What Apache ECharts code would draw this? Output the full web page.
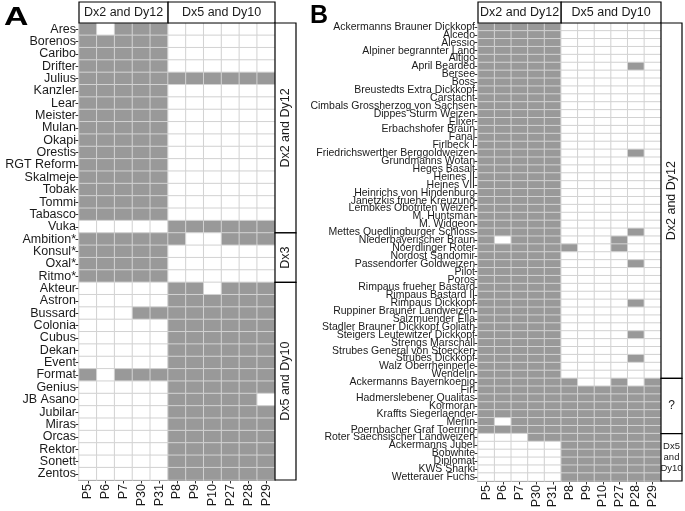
<!DOCTYPE html>
<html><head><meta charset="utf-8">
<script src="https://cdn.jsdelivr.net/npm/echarts/dist/echarts.min.js"></script>
<style>html,body{margin:0;padding:0;background:#fff}#c{width:685px;height:511px}</style>
</head><body><div id="c"></div>
<script>
// ---------- data ----------
const columns = ['P5','P6','P7','P30','P31','P8','P9','P10','P27','P28','P29'];
const colGroups = [['Dx2 and Dy12', 5], ['Dx5 and Dy10', 6]];

const rowsA = ['Ares','Borenos','Caribo','Drifter','Julius','Kanzler','Lear','Meister','Mulan','Okapi','Orestis','RGT Reform','Skalmeje','Tobak','Tommi','Tabasco','Vuka',
  'Ambition*','Konsul*','Oxal*','Ritmo*',
  'Akteur','Astron','Bussard','Colonia','Cubus','Dekan','Event','Format','Genius','JB Asano','Jubilar','Miras','Orcas','Rektor','Sonett','Zentos'];
const valuesA = [
  '10111000000','11111000000','11111000000','11111000000','11111111111','11111000000','11111000000','11111000000','11111000000','11111000000','11111000000','11111000000','11111000000','11111000000','11111000000','11111000000','00000111111',
  '11111100111','11111000000','11111000000','11111000000',
  '00000110111','00000111111','00011111111','00000111111','00000111111','00000111111','00000111111','10111111111','00000111111','00000111110','00000111111','00000111111','00000111111','00000111111','00000111111','00000111111'];
const rowGroupsA = [['Dx2 and Dy12', 17], ['Dx3', 4], ['Dx5 and Dy10', 16]];

const rowsB = ['Ackermanns Brauner Dickkopf','Alcedo','Alessio','Alpiner begrannter Land','Altigo','April Bearded','Bersee','Boss','Breustedts Extra Dickkopf','Carstacht','Cimbals Grossherzog von Sachsen','Dippes Sturm Weizen','Elixer','Erbachshofer Braun','Fanal','Firlbeck I','Friedrichswerther Berggoldweizen','Grundmanns Wotan','Heges Basalt','Heines II','Heines VII','Heinrichs von Hindenburg','Janetzkis fruehe Kreuzung','Lembkes Obotriten Weizen','M. Huntsman','M. Widgeon','Mettes Quedlingburger Schloss','Niederbayerischer Braun','Noerdlinger Roter','Nordost Sandomir','Passendorfer Goldweizen','Pilot','Poros','Rimpaus frueher Bastard','Rimpaus Bastard II','Rimpaus Dickkopf','Ruppiner Brauner Landweizen','Salzmuender Ella','Stadler Brauner Dickkopf Goliath','Steigers Leutewitzer Dickkopf','Strengs Marschall','Strubes General von Stoecken','Strubes Dickkopf','Walz Oberrheinperle','Wendelin',
  'Ackermanns Bayernkoenig','Firl','Hadmerslebener Qualitas','Kormoran','Kraffts Siegerlaender','Merlin','Poernbacher Graf Toerring',
  'Roter Saechsischer Landweizen','Ackermanns Jubel','Bobwhite','Diplomat','KWS Sharki','Wetterauer Fuchs'];
const valuesB = [
  '11111000000','11111000000','11111000000','11111000000','11111000000','11111000010','11111000000','11111000000','11111000000','11111000000',
  '11111000000','11111000000','11111000000','11111000000','11111000000','11111000000','11111000010','11111000000','11111000000','11111000000',
  '11111000000','11111000000','11111000000','11111000000','11111000000','11111000000','11111000010','10111000100','11111100100','11111000000',
  '11111000010','11111000000','11111000000','11111000000','11111000000','11111000010','11111000000','11111000000','11111000000','11111000010',
  '11111000000','11111000000','11111000010','11111000000','11111000000',
  '11111100101','11111111111','11111111111','11111111111','11111111111','10111111111','11111111111',
  '00011111111','00000111111','00000111111','00000111111','00000111111','00000111111'];
const rowGroupsB = [['Dx2 and Dy12', 45], ['?', 7], ['Dx5\nand\nDy10', 6]];

// ---------- layout ----------
const GA = {left: 79, top: 23, width: 196, height: 457};
const GB = {left: 478, top: 23, width: 183, height: 458};
const STRIP_TOP = 2, STRIP_W = 21;

function toCells(vals) {
  const out = [];
  vals.forEach((row, r) => row.split('').forEach((v, c) => out.push([c, r, +v])));
  return out;
}

function axisPair(rows, labelSize, gi) {
  return {
    x: {type: 'category', data: columns, gridIndex: gi, position: 'bottom',
        axisLine: {show: true, lineStyle: {color: '#000', width: 1}},
        axisTick: {show: true, alignWithLabel: true, length: 3.5, lineStyle: {color: '#333'}},
        axisLabel: {rotate: 90, interval: 0, fontSize: 12.5, color: '#1a1a1a', margin: 4, fontFamily: 'Liberation Sans, Arial, sans-serif'},
        splitLine: {show: false}},
    y: {type: 'category', data: rows, gridIndex: gi, inverse: true,
        axisLine: {show: true, lineStyle: {color: '#000', width: 1}},
        axisTick: {show: true, alignWithLabel: true, length: 3.5, lineStyle: {color: '#333'}},
        axisLabel: {interval: 0, fontSize: labelSize, color: '#1a1a1a', margin: 3, hideOverlap: false, fontFamily: 'Liberation Sans, Arial, sans-serif', lineHeight: labelSize},
        splitLine: {show: false}}
  };
}
const aA = axisPair(rowsA, 12.5, 0), aB = axisPair(rowsB, 10.5, 1);

const chart = echarts.init(document.getElementById('c'), null, {renderer: 'canvas'});

function strips(G, rowGroups, nRows, rightTextFn) {
  const els = [];
  const font = '12.5px "Liberation Sans", Arial, sans-serif';
  let x = G.left;
  const cw = G.width / columns.length;
  colGroups.forEach(([label, n]) => {
    const w = n * cw;
    els.push({type: 'rect', shape: {x: x, y: STRIP_TOP, width: w, height: G.top - STRIP_TOP}, style: {fill: '#fff', stroke: '#000', lineWidth: 1.2}, z: 10});
    els.push({type: 'text', x: x + w / 2, y: (STRIP_TOP + G.top) / 2 + 0.5, style: {text: label, font: font, fill: '#1a1a1a', align: 'center', verticalAlign: 'middle'}, z: 11});
    x += w;
  });
  let y = G.top;
  const rh = G.height / nRows;
  const sx = G.left + G.width;
  rowGroups.forEach(([label, n]) => {
    const h = n * rh;
    els.push({type: 'rect', shape: {x: sx, y: y, width: STRIP_W, height: h}, style: {fill: '#fff', stroke: '#000', lineWidth: 1.2}, z: 10});
    els.push(rightTextFn(label, sx + STRIP_W / 2, y + h / 2));
    y += h;
  });
  return els;
}

const rotText = (label, cx, cy) => ({type: 'text', x: cx, y: cy, rotation: Math.PI / 2,
  style: {text: label, font: '12.5px "Liberation Sans", Arial, sans-serif', fill: '#1a1a1a', align: 'center', verticalAlign: 'middle'}, z: 11});
const bText = (label, cx, cy) => {
  if (label === '?') return {type: 'text', x: cx, y: cy, style: {text: label, font: '12px "Liberation Sans", Arial, sans-serif', fill: '#1a1a1a', align: 'center', verticalAlign: 'middle'}, z: 11};
  if (label.indexOf('\n') >= 0) return {type: 'text', x: cx, y: cy, style: {text: label, font: '9.5px "Liberation Sans", Arial, sans-serif', lineHeight: 11, fill: '#1a1a1a', align: 'center', verticalAlign: 'middle'}, z: 11};
  return rotText(label, cx, cy);
};

const graphics = [
  ...strips(GA, rowGroupsA, rowsA.length, rotText),
  ...strips(GB, rowGroupsB, rowsB.length, bText),
  {type: 'text', x: 4, y: 5, scaleX: 1.3, style: {text: 'A', font: 'bold 26px "Liberation Sans", Arial, sans-serif', fill: '#000'}, z: 12},
  {type: 'text', x: 310, y: 4, style: {text: 'B', font: 'bold 25px "Liberation Sans", Arial, sans-serif', fill: '#000'}, z: 12}
];

const cellStyle = {borderColor: '#d2d2d2', borderWidth: 1};

chart.setOption({
  animation: false,
  backgroundColor: '#fff',
  grid: [
    Object.assign({containLabel: false}, GA),
    Object.assign({containLabel: false}, GB)
  ],
  xAxis: [aA.x, aB.x],
  yAxis: [aA.y, aB.y],
  visualMap: {type: 'piecewise', show: false, dimension: 2, seriesIndex: [0, 1],
    pieces: [{value: 0, color: '#ffffff'}, {value: 1, color: '#999999'}]},
  series: [
    {type: 'heatmap', xAxisIndex: 0, yAxisIndex: 0, data: toCells(valuesA), itemStyle: cellStyle, emphasis: {disabled: true}},
    {type: 'heatmap', xAxisIndex: 1, yAxisIndex: 1, data: toCells(valuesB), itemStyle: cellStyle, emphasis: {disabled: true}}
  ],
  graphic: graphics
});
</script></body></html>
